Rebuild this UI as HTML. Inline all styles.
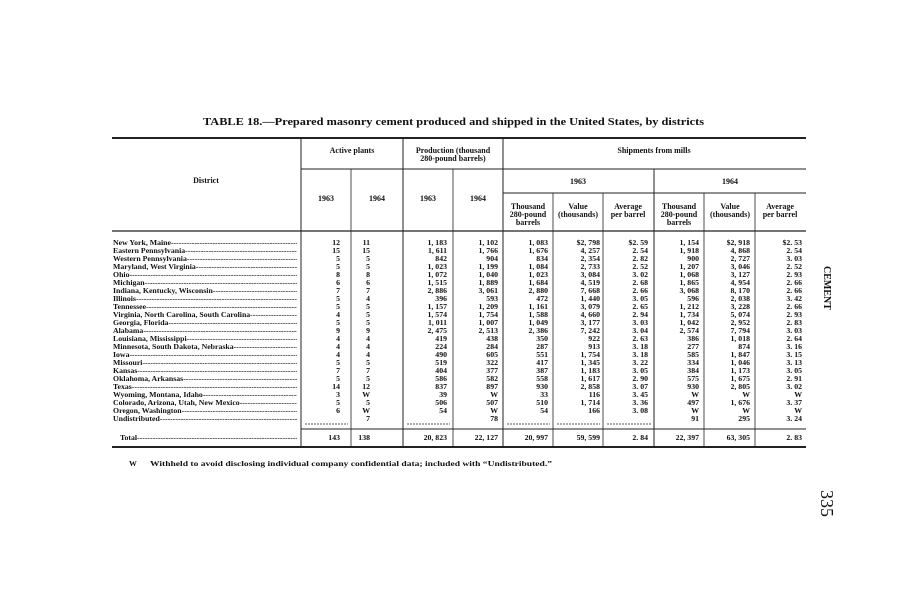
<!DOCTYPE html>
<html><head><meta charset="utf-8"><style>
html,body{margin:0;padding:0;background:#fff;}
svg{display:block;font-family:"Liberation Serif",serif;font-weight:bold;}
</style></head><body>
<svg width="907" height="600" viewBox="0 0 907 600" xmlns="http://www.w3.org/2000/svg">
<defs><clipPath id="dc"><rect x="100" y="230" width="197" height="220"/></clipPath></defs>
<rect width="907" height="600" fill="#fff"/>
<text x="203" y="125" textLength="501" lengthAdjust="spacingAndGlyphs" font-size="10.5" fill="#111">TABLE 18.—Prepared masonry cement produced and shipped in the United States, by districts</text>
<g stroke="#222" fill="none">
<line x1="112" y1="138" x2="806" y2="138" stroke-width="2"/>
<line x1="301" y1="169" x2="806" y2="169" stroke-width="1"/>
<line x1="503" y1="193" x2="806" y2="193" stroke-width="1"/>
<line x1="112" y1="231" x2="806" y2="231" stroke-width="1.2"/>
<line x1="301" y1="429" x2="806" y2="429" stroke-width="1"/>
<line x1="112" y1="447" x2="806" y2="447" stroke-width="2"/>
<line x1="301" y1="138" x2="301" y2="447" stroke-width="1"/>
<line x1="351" y1="169" x2="351" y2="447" stroke-width="0.8"/>
<line x1="403" y1="138" x2="403" y2="447" stroke-width="1"/>
<line x1="453" y1="169" x2="453" y2="447" stroke-width="0.8"/>
<line x1="503" y1="138" x2="503" y2="447" stroke-width="1"/>
<line x1="553" y1="193" x2="553" y2="447" stroke-width="0.8"/>
<line x1="603" y1="193" x2="603" y2="447" stroke-width="0.8"/>
<line x1="654" y1="169" x2="654" y2="447" stroke-width="1"/>
<line x1="704" y1="193" x2="704" y2="447" stroke-width="0.8"/>
<line x1="755" y1="193" x2="755" y2="447" stroke-width="0.8"/>
<g stroke-dasharray="2,1" stroke-width="0.8">
<line x1="305" y1="424" x2="348" y2="424"/>
<line x1="407" y1="424" x2="450" y2="424"/>
<line x1="507" y1="424" x2="550" y2="424"/>
<line x1="557" y1="424" x2="600" y2="424"/>
<line x1="607" y1="424" x2="651" y2="424"/>
</g>
</g>
<g font-size="8" fill="#111" text-anchor="middle">
<text x="206" y="183">District</text>
<text x="352" y="153">Active plants</text>
<text x="453" y="153">Production (thousand</text>
<text x="453" y="161">280-pound barrels)</text>
<text x="654" y="153">Shipments from mills</text>
<text x="326" y="201">1963</text><text x="377" y="201">1964</text>
<text x="428" y="201">1963</text><text x="478" y="201">1964</text>
<text x="578" y="184">1963</text><text x="730" y="184">1964</text>
<text x="528" y="209">Thousand</text><text x="528" y="217">280-pound</text><text x="528" y="225">barrels</text>
<text x="578" y="209">Value</text><text x="578" y="217">(thousands)</text>
<text x="628" y="209">Average</text><text x="628" y="217">per barrel</text>
<text x="679" y="209">Thousand</text><text x="679" y="217">280-pound</text><text x="679" y="225">barrels</text>
<text x="730" y="209">Value</text><text x="730" y="217">(thousands)</text>
<text x="780" y="209">Average</text><text x="780" y="217">per barrel</text>
</g>
<g font-size="7.8" fill="#111" clip-path="url(#dc)">
<text x="113" y="245">
<tspan x="113" dy="0">New York, Maine---------------------------------------------------</tspan>
<tspan x="113" dy="8">Eastern Pennsylvania----------------------------------------------</tspan>
<tspan x="113" dy="8">Western Pennsylvania----------------------------------------------</tspan>
<tspan x="113" dy="8">Maryland, West Virginia-------------------------------------------</tspan>
<tspan x="113" dy="8">Ohio--------------------------------------------------------------------</tspan>
<tspan x="113" dy="8">Michigan---------------------------------------------------------------</tspan>
<tspan x="113" dy="8">Indiana, Kentucky, Wisconsin--------------------------------------</tspan>
<tspan x="113" dy="8">Illinois------------------------------------------------------------------</tspan>
<tspan x="113" dy="8">Tennessee-------------------------------------------------------------</tspan>
<tspan x="113" dy="8">Virginia, North Carolina, South Carolina-------------------------</tspan>
<tspan x="113" dy="8">Georgia, Florida-----------------------------------------------------</tspan>
<tspan x="113" dy="8">Alabama---------------------------------------------------------------</tspan>
<tspan x="113" dy="8">Louisiana, Mississippi----------------------------------------------</tspan>
<tspan x="113" dy="8">Minnesota, South Dakota, Nebraska-----------------------------</tspan>
<tspan x="113" dy="8">Iowa--------------------------------------------------------------------</tspan>
<tspan x="113" dy="8">Missouri---------------------------------------------------------------</tspan>
<tspan x="113" dy="8">Kansas-----------------------------------------------------------------</tspan>
<tspan x="113" dy="8">Oklahoma, Arkansas-------------------------------------------------</tspan>
<tspan x="113" dy="8">Texas------------------------------------------------------------------</tspan>
<tspan x="113" dy="8">Wyoming, Montana, Idaho-----------------------------------------</tspan>
<tspan x="113" dy="8">Colorado, Arizona, Utah, New Mexico-----------------------------</tspan>
<tspan x="113" dy="8">Oregon, Washington-------------------------------------------------</tspan>
<tspan x="113" dy="8">Undistributed--------------------------------------------------------</tspan>
</text>
<text x="120" y="440">Total-------------------------------------------------------------------</text>
</g>
<g font-size="7.8" fill="#111" text-anchor="end">
<text y="245">
<tspan x="340" dy="0">12</tspan><tspan x="340" dy="8">15</tspan><tspan x="340" dy="8">5</tspan><tspan x="340" dy="8">5</tspan><tspan x="340" dy="8">8</tspan><tspan x="340" dy="8">6</tspan><tspan x="340" dy="8">7</tspan><tspan x="340" dy="8">5</tspan><tspan x="340" dy="8">5</tspan><tspan x="340" dy="8">4</tspan><tspan x="340" dy="8">5</tspan><tspan x="340" dy="8">9</tspan><tspan x="340" dy="8">4</tspan><tspan x="340" dy="8">4</tspan><tspan x="340" dy="8">4</tspan><tspan x="340" dy="8">5</tspan><tspan x="340" dy="8">7</tspan><tspan x="340" dy="8">5</tspan><tspan x="340" dy="8">14</tspan><tspan x="340" dy="8">3</tspan><tspan x="340" dy="8">5</tspan><tspan x="340" dy="8">6</tspan>
</text>
<text y="245">
<tspan x="370" dy="0">11</tspan><tspan x="370" dy="8">15</tspan><tspan x="370" dy="8">5</tspan><tspan x="370" dy="8">5</tspan><tspan x="370" dy="8">8</tspan><tspan x="370" dy="8">6</tspan><tspan x="370" dy="8">7</tspan><tspan x="370" dy="8">4</tspan><tspan x="370" dy="8">5</tspan><tspan x="370" dy="8">5</tspan><tspan x="370" dy="8">5</tspan><tspan x="370" dy="8">9</tspan><tspan x="370" dy="8">4</tspan><tspan x="370" dy="8">4</tspan><tspan x="370" dy="8">4</tspan><tspan x="370" dy="8">5</tspan><tspan x="370" dy="8">7</tspan><tspan x="370" dy="8">5</tspan><tspan x="370" dy="8">12</tspan><tspan x="370" dy="8">W</tspan><tspan x="370" dy="8">5</tspan><tspan x="370" dy="8">W</tspan><tspan x="370" dy="8">7</tspan>
</text>
<text y="245">
<tspan x="447" dy="0">1, 183</tspan><tspan x="447" dy="8">1, 611</tspan><tspan x="447" dy="8">842</tspan><tspan x="447" dy="8">1, 023</tspan><tspan x="447" dy="8">1, 072</tspan><tspan x="447" dy="8">1, 515</tspan><tspan x="447" dy="8">2, 886</tspan><tspan x="447" dy="8">396</tspan><tspan x="447" dy="8">1, 157</tspan><tspan x="447" dy="8">1, 574</tspan><tspan x="447" dy="8">1, 011</tspan><tspan x="447" dy="8">2, 475</tspan><tspan x="447" dy="8">419</tspan><tspan x="447" dy="8">224</tspan><tspan x="447" dy="8">490</tspan><tspan x="447" dy="8">519</tspan><tspan x="447" dy="8">404</tspan><tspan x="447" dy="8">586</tspan><tspan x="447" dy="8">837</tspan><tspan x="447" dy="8">39</tspan><tspan x="447" dy="8">506</tspan><tspan x="447" dy="8">54</tspan>
</text>
<text y="245">
<tspan x="498" dy="0">1, 102</tspan><tspan x="498" dy="8">1, 766</tspan><tspan x="498" dy="8">904</tspan><tspan x="498" dy="8">1, 199</tspan><tspan x="498" dy="8">1, 040</tspan><tspan x="498" dy="8">1, 889</tspan><tspan x="498" dy="8">3, 061</tspan><tspan x="498" dy="8">593</tspan><tspan x="498" dy="8">1, 209</tspan><tspan x="498" dy="8">1, 754</tspan><tspan x="498" dy="8">1, 007</tspan><tspan x="498" dy="8">2, 513</tspan><tspan x="498" dy="8">438</tspan><tspan x="498" dy="8">284</tspan><tspan x="498" dy="8">605</tspan><tspan x="498" dy="8">322</tspan><tspan x="498" dy="8">377</tspan><tspan x="498" dy="8">582</tspan><tspan x="498" dy="8">897</tspan><tspan x="498" dy="8">W</tspan><tspan x="498" dy="8">507</tspan><tspan x="498" dy="8">W</tspan><tspan x="498" dy="8">78</tspan>
</text>
<text y="245">
<tspan x="548" dy="0">1, 083</tspan><tspan x="548" dy="8">1, 676</tspan><tspan x="548" dy="8">834</tspan><tspan x="548" dy="8">1, 084</tspan><tspan x="548" dy="8">1, 023</tspan><tspan x="548" dy="8">1, 684</tspan><tspan x="548" dy="8">2, 880</tspan><tspan x="548" dy="8">472</tspan><tspan x="548" dy="8">1, 161</tspan><tspan x="548" dy="8">1, 588</tspan><tspan x="548" dy="8">1, 049</tspan><tspan x="548" dy="8">2, 386</tspan><tspan x="548" dy="8">350</tspan><tspan x="548" dy="8">287</tspan><tspan x="548" dy="8">551</tspan><tspan x="548" dy="8">417</tspan><tspan x="548" dy="8">387</tspan><tspan x="548" dy="8">558</tspan><tspan x="548" dy="8">930</tspan><tspan x="548" dy="8">33</tspan><tspan x="548" dy="8">510</tspan><tspan x="548" dy="8">54</tspan>
</text>
<text y="245">
<tspan x="600" dy="0">$2, 798</tspan><tspan x="600" dy="8">4, 257</tspan><tspan x="600" dy="8">2, 354</tspan><tspan x="600" dy="8">2, 733</tspan><tspan x="600" dy="8">3, 084</tspan><tspan x="600" dy="8">4, 519</tspan><tspan x="600" dy="8">7, 668</tspan><tspan x="600" dy="8">1, 440</tspan><tspan x="600" dy="8">3, 079</tspan><tspan x="600" dy="8">4, 660</tspan><tspan x="600" dy="8">3, 177</tspan><tspan x="600" dy="8">7, 242</tspan><tspan x="600" dy="8">922</tspan><tspan x="600" dy="8">913</tspan><tspan x="600" dy="8">1, 754</tspan><tspan x="600" dy="8">1, 345</tspan><tspan x="600" dy="8">1, 183</tspan><tspan x="600" dy="8">1, 617</tspan><tspan x="600" dy="8">2, 858</tspan><tspan x="600" dy="8">116</tspan><tspan x="600" dy="8">1, 714</tspan><tspan x="600" dy="8">166</tspan>
</text>
<text y="245">
<tspan x="648" dy="0">$2. 59</tspan><tspan x="648" dy="8">2. 54</tspan><tspan x="648" dy="8">2. 82</tspan><tspan x="648" dy="8">2. 52</tspan><tspan x="648" dy="8">3. 02</tspan><tspan x="648" dy="8">2. 68</tspan><tspan x="648" dy="8">2. 66</tspan><tspan x="648" dy="8">3. 05</tspan><tspan x="648" dy="8">2. 65</tspan><tspan x="648" dy="8">2. 94</tspan><tspan x="648" dy="8">3. 03</tspan><tspan x="648" dy="8">3. 04</tspan><tspan x="648" dy="8">2. 63</tspan><tspan x="648" dy="8">3. 18</tspan><tspan x="648" dy="8">3. 18</tspan><tspan x="648" dy="8">3. 22</tspan><tspan x="648" dy="8">3. 05</tspan><tspan x="648" dy="8">2. 90</tspan><tspan x="648" dy="8">3. 07</tspan><tspan x="648" dy="8">3. 45</tspan><tspan x="648" dy="8">3. 36</tspan><tspan x="648" dy="8">3. 08</tspan>
</text>
<text y="245">
<tspan x="699" dy="0">1, 154</tspan><tspan x="699" dy="8">1, 918</tspan><tspan x="699" dy="8">900</tspan><tspan x="699" dy="8">1, 207</tspan><tspan x="699" dy="8">1, 068</tspan><tspan x="699" dy="8">1, 865</tspan><tspan x="699" dy="8">3, 068</tspan><tspan x="699" dy="8">596</tspan><tspan x="699" dy="8">1, 212</tspan><tspan x="699" dy="8">1, 734</tspan><tspan x="699" dy="8">1, 042</tspan><tspan x="699" dy="8">2, 574</tspan><tspan x="699" dy="8">386</tspan><tspan x="699" dy="8">277</tspan><tspan x="699" dy="8">585</tspan><tspan x="699" dy="8">334</tspan><tspan x="699" dy="8">384</tspan><tspan x="699" dy="8">575</tspan><tspan x="699" dy="8">930</tspan><tspan x="699" dy="8">W</tspan><tspan x="699" dy="8">497</tspan><tspan x="699" dy="8">W</tspan><tspan x="699" dy="8">91</tspan>
</text>
<text y="245">
<tspan x="750" dy="0">$2, 918</tspan><tspan x="750" dy="8">4, 868</tspan><tspan x="750" dy="8">2, 727</tspan><tspan x="750" dy="8">3, 046</tspan><tspan x="750" dy="8">3, 127</tspan><tspan x="750" dy="8">4, 954</tspan><tspan x="750" dy="8">8, 170</tspan><tspan x="750" dy="8">2, 038</tspan><tspan x="750" dy="8">3, 228</tspan><tspan x="750" dy="8">5, 074</tspan><tspan x="750" dy="8">2, 952</tspan><tspan x="750" dy="8">7, 794</tspan><tspan x="750" dy="8">1, 018</tspan><tspan x="750" dy="8">874</tspan><tspan x="750" dy="8">1, 847</tspan><tspan x="750" dy="8">1, 046</tspan><tspan x="750" dy="8">1, 173</tspan><tspan x="750" dy="8">1, 675</tspan><tspan x="750" dy="8">2, 805</tspan><tspan x="750" dy="8">W</tspan><tspan x="750" dy="8">1, 676</tspan><tspan x="750" dy="8">W</tspan><tspan x="750" dy="8">295</tspan>
</text>
<text y="245">
<tspan x="802" dy="0">$2. 53</tspan><tspan x="802" dy="8">2. 54</tspan><tspan x="802" dy="8">3. 03</tspan><tspan x="802" dy="8">2. 52</tspan><tspan x="802" dy="8">2. 93</tspan><tspan x="802" dy="8">2. 66</tspan><tspan x="802" dy="8">2. 66</tspan><tspan x="802" dy="8">3. 42</tspan><tspan x="802" dy="8">2. 66</tspan><tspan x="802" dy="8">2. 93</tspan><tspan x="802" dy="8">2. 83</tspan><tspan x="802" dy="8">3. 03</tspan><tspan x="802" dy="8">2. 64</tspan><tspan x="802" dy="8">3. 16</tspan><tspan x="802" dy="8">3. 15</tspan><tspan x="802" dy="8">3. 13</tspan><tspan x="802" dy="8">3. 05</tspan><tspan x="802" dy="8">2. 91</tspan><tspan x="802" dy="8">3. 02</tspan><tspan x="802" dy="8">W</tspan><tspan x="802" dy="8">3. 37</tspan><tspan x="802" dy="8">W</tspan><tspan x="802" dy="8">3. 24</tspan>
</text>
<text x="340" y="440">143</text><text x="370" y="440">138</text>
<text x="447" y="440">20, 823</text><text x="498" y="440">22, 127</text>
<text x="548" y="440">20, 997</text><text x="600" y="440">59, 599</text><text x="648" y="440">2. 84</text>
<text x="699" y="440">22, 397</text><text x="750" y="440">63, 305</text><text x="802" y="440">2. 83</text>
</g>
<g font-size="7.8" fill="#111">
<text x="129" y="466">W</text>
<text x="150" y="466" textLength="402" lengthAdjust="spacingAndGlyphs">Withheld to avoid disclosing individual company confidential data; included with “Undistributed.”</text>
</g>
<text transform="translate(824,266) rotate(90)" font-size="10" fill="#111">CEMENT</text>
<text transform="translate(821,490) rotate(90)" font-size="18" font-weight="normal" fill="#111">335</text>
</svg>
</body></html>
